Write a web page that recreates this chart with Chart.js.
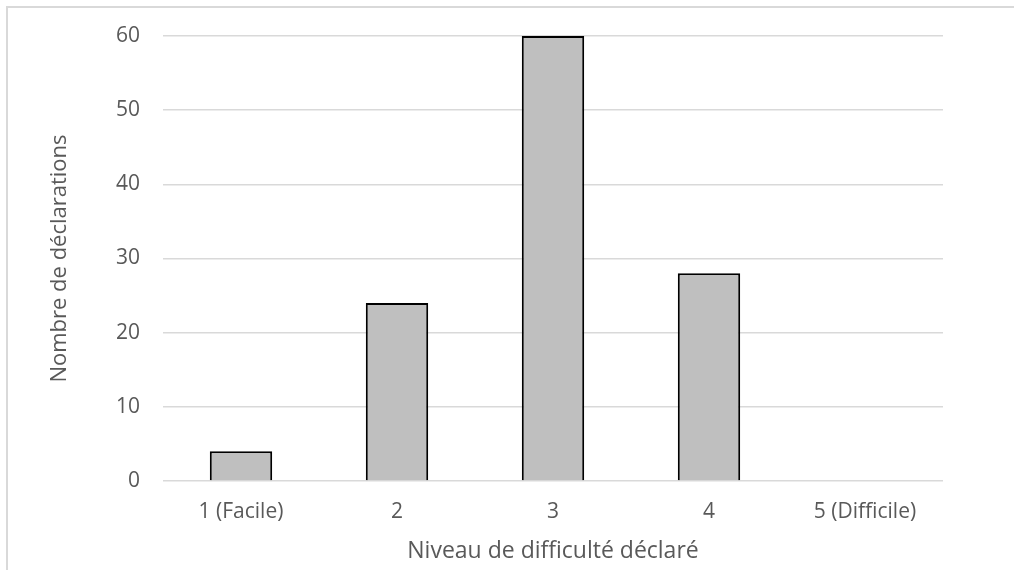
<!DOCTYPE html>
<html>
<head>
<meta charset="utf-8">
<script src="https://cdn.jsdelivr.net/npm/chart.js@4"></script>
<style>
  html, body { margin: 0; padding: 0; background: #fff; }
  #wrap { width: 1014px; height: 570px; position: relative; }
</style>
</head>
<body>
<div id="wrap"><canvas id="myChart" width="1014" height="570"></canvas></div>
<script>
var categories = ["1 (Facile)", "2", "3", "4", "5 (Difficile)"];
var counts = [4, 24, 60, 28, 0];
var yTitle = "Nombre de déclarations";
var xTitle = "Niveau de difficulté déclaré";

var fontFamily = "'Open Sans', sans-serif";
var textColor = "#595959";

// light grey frame round the chart (right and bottom edges fall outside the picture)
var framePlugin = {
  id: "frame",
  beforeDraw: function(chart) {
    var c = chart.ctx;
    c.save();
    c.strokeStyle = "#d9d9d9";
    c.lineWidth = 2;
    c.beginPath();
    c.moveTo(7, 570);
    c.lineTo(7, 7);
    c.lineTo(1014, 7);
    c.stroke();
    c.restore();
  }
};

var ctx = document.getElementById("myChart");
var myChart = new Chart(ctx, {
  type: "bar",
  data: {
    labels: categories,
    datasets: [
      {
        label: yTitle,
        data: counts,
        backgroundColor: "#bfbfbf",
        borderColor: "#000000",
        borderWidth: 2,
        barPercentage: 0.4,
        categoryPercentage: 1
      }
    ]
  },
  options: {
    responsive: false,
    animation: false,
    layout: { padding: { top: 36, right: 71, left: 0, bottom: 0 } },
    plugins: {
      legend: { display: false },
      tooltip: { enabled: false }
    },
    scales: {
      x: {
        grid: { display: false, drawTicks: false },
        border: { display: false },
        ticks: { color: textColor, font: { family: fontFamily, size: 21 }, padding: 18, maxRotation: 0 },
        title: {
          display: true,
          text: xTitle,
          color: textColor,
          font: { family: fontFamily, size: 23 },
          padding: { top: 0, bottom: 5 }
        },
        afterFit: function(scale) { scale.height = 89; }
      },
      y: {
        min: 0,
        max: 60,
        ticks: { stepSize: 10, color: textColor, font: { family: fontFamily, size: 21 }, padding: 23 },
        grid: { color: "#d9d9d9", lineWidth: 1.5, drawTicks: false },
        border: { display: false },
        title: {
          display: true,
          text: yTitle,
          color: textColor,
          font: { family: fontFamily, size: 22 },
          padding: { top: 47, bottom: 0 }
        },
        afterFit: function(scale) { scale.width = 163; }
      }
    }
  },
  plugins: [framePlugin]
});
</script>
</body>
</html>
